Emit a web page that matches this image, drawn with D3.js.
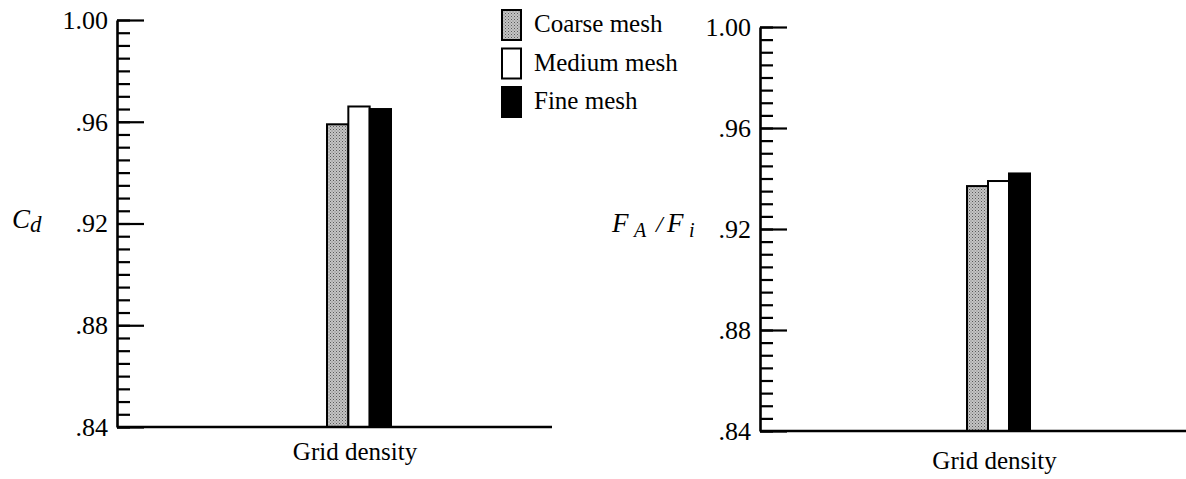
<!DOCTYPE html>
<html>
<head>
<meta charset="utf-8">
<script src="https://cdn.jsdelivr.net/npm/d3@7"></script>
<style>
  html, body { margin: 0; padding: 0; background: #fff; }
  svg text { font-family: "Liberation Serif", "Times New Roman", serif; fill: #000; }
</style>
</head>
<body>
<svg id="chart" width="1186" height="479"></svg>
<script>
// Mesh levels and results for the two panels
const meshes = ["Coarse mesh", "Medium mesh", "Fine mesh"];
const dragCoef = [0.959, 0.966, 0.965];      // C_d
const forceRatio = [0.937, 0.939, 0.942];    // F_A / F_i
const majorTicks = [0.84, 0.88, 0.92, 0.96, 1.00];
const majorLabels = [".84", ".88", ".92", ".96", "1.00"];
const minorTicks = d3.range(0, 33).map(i => +(0.84 + i * 0.005).toFixed(3));
const categoryLabel = "Grid density";

const svg = d3.select("#chart");

// Stippled grey fill for the coarse mesh bars
const defs = svg.append("defs");
const pat = defs.append("pattern")
  .attr("id", "stipple").attr("patternUnits", "userSpaceOnUse")
  .attr("width", 3).attr("height", 3);
pat.append("rect").attr("width", 3).attr("height", 3).attr("fill", "#c4c4c4");
pat.append("rect").attr("x", 0).attr("y", 0).attr("width", 1).attr("height", 1).attr("fill", "#5a5a5a");
pat.append("rect").attr("x", 1.5).attr("y", 1.5).attr("width", 1).attr("height", 1).attr("fill", "#7a7a7a");

const fills = ["url(#stipple)", "#fff", "#000"];

function panel(opts) {
  const g = svg.append("g");
  const y = d3.scaleLinear().domain([0.84, 1.00]).range([opts.y0, opts.y1]);
  const x = d3.scaleBand().domain(meshes).range([opts.barL, opts.barR]).padding(0);

  // minor ticks
  g.append("g")
    .attr("transform", `translate(${opts.ax},0)`)
    .call(d3.axisLeft(y).tickValues(minorTicks).tickSize(-13).tickSizeOuter(0).tickFormat(""))
    .call(s => s.select(".domain").remove())
    .call(s => s.selectAll("line").attr("stroke", "#000").attr("stroke-width", 2.2));

  // major ticks with labels
  g.append("g")
    .attr("transform", `translate(${opts.ax},0)`)
    .call(d3.axisLeft(y).tickValues(majorTicks).tickSize(-27).tickSizeOuter(0).tickPadding(9)
      .tickFormat((d, i) => majorLabels[i]))
    .call(s => s.attr("font-family", null))
    .call(s => s.select(".domain").attr("stroke", "#000").attr("stroke-width", 2.6))
    .call(s => s.selectAll("line").attr("stroke", "#000").attr("stroke-width", 2.2))
    .call(s => s.selectAll("text").attr("font-size", 26));

  // bars
  g.selectAll("rect.bar").data(opts.values).join("rect")
    .attr("class", "bar")
    .attr("x", (d, i) => x(meshes[i]))
    .attr("width", x.bandwidth())
    .attr("y", d => y(d))
    .attr("height", d => y(0.84) - y(d))
    .attr("fill", (d, i) => fills[i])
    .attr("stroke", "#000").attr("stroke-width", 2);

  // baseline
  g.append("line")
    .attr("x1", opts.ax).attr("x2", opts.axEnd)
    .attr("y1", y(0.84)).attr("y2", y(0.84))
    .attr("stroke", "#000").attr("stroke-width", 2.6);

  // category label
  g.append("text")
    .attr("x", (opts.barL + opts.barR) / 2 - 4).attr("y", opts.catY)
    .attr("text-anchor", "middle").attr("font-size", 25)
    .text(categoryLabel);
  return g;
}

panel({ ax: 117, axEnd: 552, y0: 427, y1: 20, barL: 327, barR: 391, values: dragCoef, catY: 460 });
panel({ ax: 760, axEnd: 1186, y0: 431, y1: 27, barL: 967, barR: 1030, values: forceRatio, catY: 469 });

// y-axis titles
const t1 = svg.append("text").attr("x", 12).attr("y", 228).attr("font-size", 27).attr("font-style", "italic");
t1.append("tspan").text("C");
t1.append("tspan").attr("dy", 4).attr("font-size", 23).text("d");

const t2 = svg.append("g").attr("font-style", "italic");
t2.append("text").attr("x", 612).attr("y", 232).attr("font-size", 27).text("F");
t2.append("text").attr("x", 634).attr("y", 237).attr("font-size", 20).text("A");
t2.append("text").attr("x", 656).attr("y", 232).attr("font-size", 24).text("/");
t2.append("text").attr("x", 667).attr("y", 232).attr("font-size", 27).text("F");
t2.append("text").attr("x", 689).attr("y", 237).attr("font-size", 20).text("i");

// legend
const leg = svg.append("g").attr("transform", "translate(502,10)");
const items = leg.selectAll("g").data(meshes).join("g")
  .attr("transform", (d, i) => `translate(0,${i * 38.5})`);
items.append("rect")
  .attr("width", 19).attr("height", 30)
  .attr("fill", (d, i) => fills[i])
  .attr("stroke", "#000").attr("stroke-width", 2);
items.append("text")
  .attr("x", 32).attr("y", 22).attr("font-size", 25)
  .text(d => d);
</script>
</body>
</html>
